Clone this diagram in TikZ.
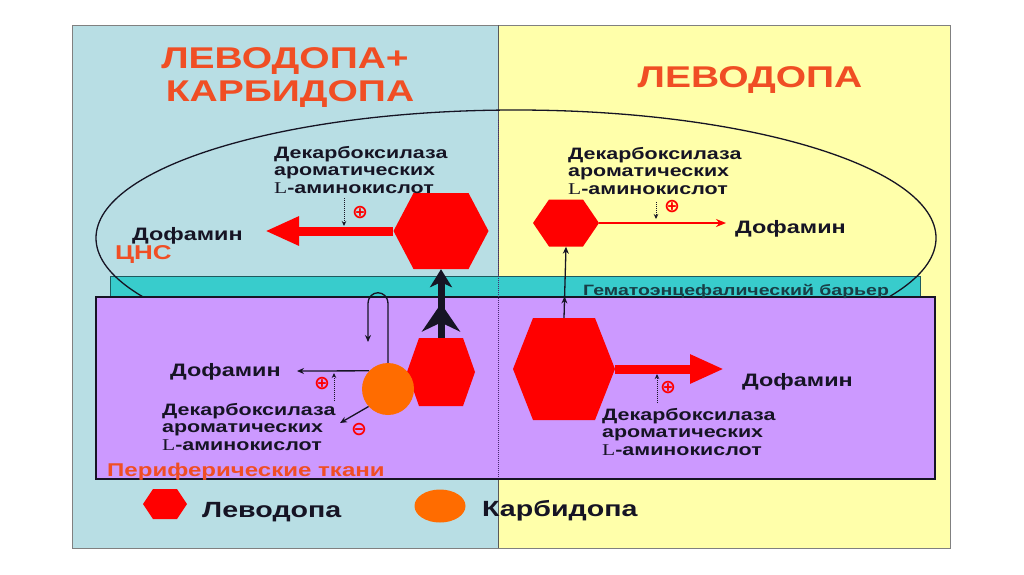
\documentclass[tikz,border=0pt]{standalone}
\usepackage{fontspec}
\setmainfont{Liberation Sans}[FakeStretch=1.3]
\newfontfamily\serifL{Liberation Serif}[FakeStretch=1.3]
\newfontfamily\symf{DejaVu Sans}
\usetikzlibrary{arrows.meta,shapes.geometric,decorations.markings}

\definecolor{paneblue}{RGB}{184,222,228}
\definecolor{paneyel}{RGB}{255,255,170}
\definecolor{band}{RGB}{56,204,204}
\definecolor{bandline}{RGB}{30,90,95}
\definecolor{periph}{RGB}{204,153,255}
\definecolor{hexred}{RGB}{255,0,0}
\definecolor{carbi}{RGB}{255,108,0}
\definecolor{titred}{RGB}{240,78,36}
\definecolor{ink}{RGB}{22,20,36}
\definecolor{barink}{RGB}{24,62,70}
\definecolor{sepline}{RGB}{70,40,110}

\tikzset{hexdrug/.style n args={3}{minimum width=#1,minimum height=#2,inner sep=0,
    path picture={\fill[hexred] (path picture bounding box.west)
      -- ([xshift=#3]path picture bounding box.north west)
      -- ([xshift=-#3]path picture bounding box.north east)
      -- (path picture bounding box.east)
      -- ([xshift=-#3]path picture bounding box.south east)
      -- ([xshift=#3]path picture bounding box.south west) -- cycle;}}}
\tikzset{ttl/.style={font=\bfseries\fontsize{30}{32}\selectfont,text=titred,anchor=base,inner sep=0},
         lbl/.style={font=\bfseries\fontsize{18}{20}\selectfont,text=ink,anchor=base west,inner sep=0},
         enz/.style={font=\bfseries\fontsize{16.5}{17.5}\selectfont,text=ink,align=left,anchor=north west,inner sep=0},
         sgn/.style={font=\symf\bfseries\fontsize{19}{19}\selectfont,text=hexred,inner sep=0}}
\tikzset{fatred/.style={hexred,line width=9pt,-{Triangle[length=34pt,width=27pt]}},
         thinred/.style={hexred,line width=2.5pt,-{Stealth[length=10pt,width=8pt]}},
         fatblack/.style={ink,line width=7pt,-{Stealth[length=18pt,width=22pt,inset=5pt]},
           postaction={decorate},decoration={markings,
           mark=at position 0.5 with {\arrow{Stealth[length=28pt,width=38pt,inset=9pt]}}}},
         thinarr/.style={ink,line width=1.3pt,-{Stealth[length=7pt,width=6pt]}},
         enzact/.style={ink,densely dotted,line width=1pt,-{Stealth[length=5pt,width=4.5pt]}}}

\newcommand{\enzyme}{Декарбоксилаза\\ароматических\\{\serifL\mdseries L}-аминокислот}

\begin{document}
\begin{tikzpicture}[x=1pt,y=-1pt]
    \useasboundingbox[fill=white] (0,0) rectangle (1024,574);
    % panels
    \fill[paneblue] (72,25) rectangle (498,548);
    \fill[paneyel]  (498,25) rectangle (950,548);
    \draw[gray,line width=1pt] (72,25) rectangle (950,548);
    \draw[gray!70!black,line width=0.8pt] (498,25) -- (498,548);
    % barrier, CNS and periphery
    \filldraw[fill=band,draw=bandline,line width=0.8pt] (110,276) rectangle (920,297);
    \draw[ink,line width=1.3pt] (516,238) ellipse [x radius=420,y radius=128];
    \filldraw[fill=periph,draw=ink,line width=1.5pt] (96,297) rectangle (935,479);
    \draw[sepline,densely dotted,line width=1pt] (498,120) -- (498,478);

    \node[ttl] (titleA) at (285,68)  {ЛЕВОДОПА+};
    \node[ttl] (titleB) at (290,101) {КАРБИДОПА};
    \node[ttl] (titleC) at (750,87)  {ЛЕВОДОПА};

    % drugs
    \node[hexdrug={95}{76}{20}]   (cnsL) at (441,231) {};
    \node[hexdrug={66}{47}{16}]   (cnsR) at (566,223) {};
    \node[hexdrug={68}{68}{12}]   (perL) at (441,372) {};
    \node[hexdrug={102}{102}{20}] (perR) at (564,369) {};
    \node[circle,fill=carbi,minimum size=52,inner sep=0] (carbL) at (388,389) {};

    % texts
    \node[lbl] (dofCL) at (132,240) {Дофамин};
    \node[lbl] (dofCR) at (735,233) {Дофамин};
    \node[lbl] (dofPL) at (170,376) {Дофамин};
    \node[lbl] (dofPR) at (742,386) {Дофамин};
    \node[lbl,text=titred,font=\bfseries\fontsize{20}{22}\selectfont] (cns) at (115,259) {ЦНС};
    \node[lbl,text=titred,font=\bfseries\fontsize{18.5}{20}\selectfont] (peri) at (107,476) {Периферические ткани};
    \node[lbl,text=barink,font=\bfseries\fontsize{15}{17}\selectfont] (bbb) at (583,295) {Гематоэнцефалический барьер};
    \node[enz] (enzCL) at (274,146) {\enzyme};
    \node[enz] (enzCR) at (568,147) {\enzyme};
    \node[enz] (enzPL) at (162,403) {\enzyme};
    \node[enz] (enzPR) at (602,408) {\enzyme};
    \node[sgn] (plCL) at (360,213) {⊕};
    \node[sgn] (plCR) at (672,207) {⊕};
    \node[sgn] (plPL) at (322,384) {⊕};
    \node[sgn] (plPR) at (668,388) {⊕};
    \node[sgn] (miPL) at (359,430) {⊖};

    % free ends
    \coordinate (tipCL) at (265,231);
    \coordinate (tipCR) at (726,223);
    \coordinate (tipPR) at (724,369);
    \coordinate (tipDL) at (297,371);
    \coordinate (tipIn) at (340,423);
    \coordinate (loopE) at (368,342);

    % conversions and transport
    \draw[fatred]  (cnsL.west) -- (tipCL);
    \draw[thinred] (cnsR.east) -- (tipCR);
    \draw[fatred]  (perR.east) -- (tipPR);
    \draw[fatblack] (perL.north) -- (cnsL.south);
    \draw[thinarr,postaction={decorate},decoration={markings,
        mark=at position 0.3 with {\arrow{Stealth[length=7pt,width=6pt]}}}] (perR.north) -- (cnsR.south);
    \draw[thinarr] (carbL.north) -- (388,304) .. controls (388,289) and (368,289) .. (368,304) -- (loopE);
    \draw[thinarr] (carbL.136) -- (tipDL);
    \draw[thinarr] (carbL.222) -- (tipIn);
    \draw[enzact] (344,198) -- (344,226);
    \draw[enzact] (656,202) -- (656,219);
    \draw[enzact] (334,401) -- (334,373);
    \draw[enzact] (657,403) -- (657,374);

    % legend
    \node[hexdrug={44}{30}{10}] (legL) at (165,504) {};
    \node[ellipse,fill=carbi,minimum width=51,minimum height=33,inner sep=0] (legC) at (440,506) {};
    \node[lbl,font=\bfseries\fontsize{22}{24}\selectfont] (legLt) at (202,517) {Леводопа};
    \node[lbl,font=\bfseries\fontsize{22}{24}\selectfont] (legCt) at (482,516) {Карбидопа};
\end{tikzpicture}
\end{document}
